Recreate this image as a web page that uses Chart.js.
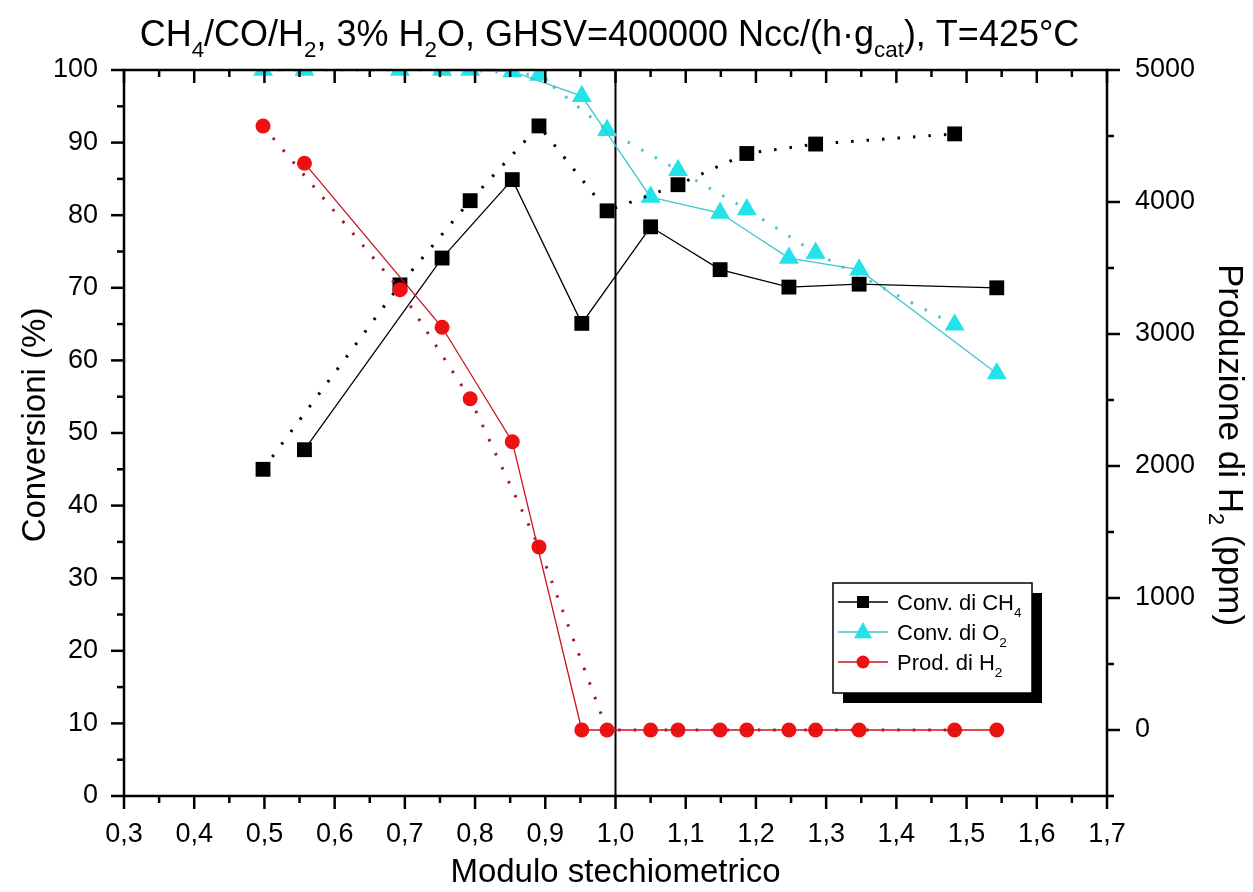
<!DOCTYPE html>
<html>
<head>
<meta charset="utf-8">
<script src="https://cdn.jsdelivr.net/npm/chart.js"></script>
<style>
  html, body { margin: 0; padding: 0; background: #fff; }
  canvas { display: block; }
</style>
</head>
<body>
<canvas id="myChart" width="1253" height="892"></canvas>
<script>
    // modulo stechiometrico: two test runs (solid / dotted lines)
    const modSolid  = [0.557, 0.753, 0.853, 0.952, 1.050, 1.149, 1.247, 1.347, 1.543];
    const modDotted = [0.498, 0.693, 0.793, 0.891, 0.988, 1.089, 1.187, 1.285, 1.483];

    // conversions (%) - left axis
    const ch4Solid  = [47.7, 74.1, 84.9, 65.1, 78.4, 72.5, 70.1, 70.5, 70.0];
    const ch4Dotted = [45.0, 70.4, 82.0, 92.3, 80.6, 84.2, 88.5, 89.8, 91.2];
    const o2Solid   = [100, 100, 99.8, 96.4, 82.5, 80.3, 74.1, 72.5, 58.2];
    const o2Dotted  = [100, 100, 100, 99.3, 91.7, 86.2, 80.8, 74.8, 64.9];

    // H2 production (ppm) - right axis
    const h2Solid   = [4294, 3051, 2184, 0, 0, 0, 0, 0, 0];
    const h2Dotted  = [4576, 3336, 2509, 1387, 0, 0, 0, 0, 0];

    const xTicks    = [0.3, 0.4, 0.5, 0.6, 0.7, 0.8, 0.9, 1.0, 1.1, 1.2, 1.3, 1.4, 1.5, 1.6, 1.7];
    const convTicks = [0, 10, 20, 30, 40, 50, 60, 70, 80, 90, 100];
    const h2Ticks   = [0, 1000, 2000, 3000, 4000, 5000];
    const stoichLine = 1.0;

    const legendLabels = [
        [['Conv. di CH', 0], ['4', 1]],
        [['Conv. di O', 0], ['2', 1]],
        [['Prod. di H', 0], ['2', 1]]
    ];

    const FONT = "'Liberation Sans', Arial, sans-serif";
    const BLACK = '#000000';
    const CYAN = '#22e2ea';
    const RED = '#ee1111';

    function pts(xs, ys) {
        return xs.map((v, i) => ({x: v, y: ys[i]}));
    }

    function minorOf(ticks, below) {
        const out = [];
        for (let i = 1; i < ticks.length; i++) out.push((ticks[i - 1] + ticks[i]) / 2);
        if (below !== undefined) out.push(below);
        return out;
    }

    function partsWidth(ctx, parts, size) {
        let w = 0;
        parts.forEach(([t, sub]) => {
            ctx.font = (sub ? size * 0.62 : size) + 'px ' + FONT;
            w += ctx.measureText(t).width;
        });
        return w;
    }

    function drawParts(ctx, parts, x, y, size) {
        parts.forEach(([t, sub]) => {
            ctx.font = (sub ? size * 0.62 : size) + 'px ' + FONT;
            ctx.fillText(t, x, sub ? y + size * 0.3 : y);
            x += ctx.measureText(t).width;
        });
        return x;
    }

    function drawCentered(ctx, parts, cx, cy, size, rot) {
        ctx.save();
        ctx.translate(cx, cy);
        ctx.rotate(rot);
        ctx.fillStyle = BLACK;
        ctx.textAlign = 'left';
        ctx.textBaseline = 'alphabetic';
        drawParts(ctx, parts, -partsWidth(ctx, parts, size) / 2, 0, size);
        ctx.restore();
    }

    function marker(ctx, style, x, y, r, color) {
        ctx.fillStyle = color;
        ctx.beginPath();
        if (style === 'rect') {
            ctx.rect(x - r, y - r, 2 * r, 2 * r);
        } else if (style === 'triangle') {
            ctx.moveTo(x, y - r * 1.1);
            ctx.lineTo(x + r, y + r * 0.7);
            ctx.lineTo(x - r, y + r * 0.7);
            ctx.closePath();
        } else {
            ctx.arc(x, y, r, 0, Math.PI * 2);
        }
        ctx.fill();
    }

    const frame = {
        id: 'frame',
        beforeDatasetsDraw(chart) {
            const {ctx, chartArea: {top, bottom}, scales: {x}} = chart;
            const px = x.getPixelForValue(stoichLine);
            ctx.save();
            ctx.strokeStyle = BLACK;
            ctx.lineWidth = 2;
            ctx.beginPath();
            ctx.moveTo(px, top);
            ctx.lineTo(px, bottom);
            ctx.stroke();
            ctx.restore();
        },
        afterDatasetsDraw(chart) {
            const {ctx, chartArea: {left, right, top, bottom}, scales: {x, y, y1}} = chart;
            ctx.save();
            ctx.strokeStyle = BLACK;
            ctx.lineWidth = 2.5;
            ctx.strokeRect(left, top, right - left, bottom - top);
            const seg = (x0, y0, x1, y1_) => {
                ctx.beginPath(); ctx.moveTo(x0, y0); ctx.lineTo(x1, y1_); ctx.stroke();
            };
            const MAJ = 13, MIN = 7;
            xTicks.forEach(v => {
                const p = x.getPixelForValue(v);
                seg(p, bottom, p, bottom + MAJ);
                seg(p, top, p, top + MAJ);
            });
            minorOf(xTicks).forEach(v => {
                const p = x.getPixelForValue(v);
                seg(p, bottom, p, bottom + MIN);
                seg(p, top, p, top + MIN);
            });
            convTicks.forEach(v => {
                const p = y.getPixelForValue(v);
                seg(left, p, left - MAJ, p);
            });
            minorOf(convTicks).forEach(v => {
                const p = y.getPixelForValue(v);
                seg(left, p, left - MIN, p);
            });
            h2Ticks.forEach(v => {
                const p = y1.getPixelForValue(v);
                seg(right, p, right + MAJ, p);
            });
            minorOf(h2Ticks, -500).forEach(v => {
                const p = y1.getPixelForValue(v);
                seg(right, p, right + MIN, p);
            });
            ctx.restore();
        },
        afterDraw(chart) {
            const {ctx, chartArea: {left, right, top, bottom}} = chart;
            const cx = (left + right) / 2;
            const cy = (top + bottom) / 2;

            // titles
            drawCentered(ctx, [['CH', 0], ['4', 1], ['/CO/H', 0], ['2', 1], [', 3% H', 0], ['2', 1],
                ['O, GHSV=400000 Ncc/(h\u00b7g', 0], ['cat', 1], ['), T=425\u00b0C', 0]], cx - 6, 46, 36, 0);
            drawCentered(ctx, [['Modulo stechiometrico', 0]], cx, 882, 33, 0);
            drawCentered(ctx, [['Conversioni (%)', 0]], 45, cy - 8, 33, -Math.PI / 2);
            drawCentered(ctx, [['Produzione di H', 0], ['2', 1], [' (ppm)', 0]], 1219, cy + 12, 35, Math.PI / 2);

            // legend box with shadow
            const lx = right - 274, ly = bottom - 213, lw = 199, lh = 110;
            ctx.save();
            ctx.fillStyle = BLACK;
            ctx.fillRect(lx + 10, ly + 10, lw, lh);
            ctx.fillStyle = '#ffffff';
            ctx.fillRect(lx, ly, lw, lh);
            ctx.strokeStyle = BLACK;
            ctx.lineWidth = 1.5;
            ctx.strokeRect(lx, ly, lw, lh);
            const styles = [['rect', BLACK, BLACK, 6], ['triangle', CYAN, '#3cc8cf', 9], ['circle', RED, '#c8141e', 6.5]];
            legendLabels.forEach((parts, i) => {
                const ry = ly + 19 + i * 30;
                const [ps, fill, lineCol, r] = styles[i];
                ctx.strokeStyle = lineCol;
                ctx.lineWidth = 1.3;
                ctx.beginPath();
                ctx.moveTo(lx + 5, ry);
                ctx.lineTo(lx + 55, ry);
                ctx.stroke();
                marker(ctx, ps, lx + 30, ry, r, fill);
                ctx.fillStyle = BLACK;
                ctx.textBaseline = 'alphabetic';
                ctx.textAlign = 'left';
                drawParts(ctx, parts, lx + 64, ry + 8, 22);
            });
            ctx.restore();
        }
    };

    function series(xs, ys, axis, color, lineColor, style, radius, dotted, order) {
        return {
            data: pts(xs, ys),
            yAxisID: axis,
            borderColor: lineColor,
            borderWidth: dotted ? 3 : 1.3,
            borderDash: dotted ? [2.5, 13] : [],
            pointStyle: style,
            pointRadius: radius,
            pointBackgroundColor: color,
            pointBorderColor: color,
            pointBorderWidth: 0,
            tension: 0,
            clip: 0,
            order: order
        };
    }

    const data = {
        datasets: [
            series(modSolid,  h2Solid,  'y1', RED, '#c8141e', 'circle', 7.5, false, 0),
            series(modDotted, h2Dotted, 'y1', RED, '#a01a2c', 'circle', 7.5, true, 1),
            series(modSolid,  ch4Solid,  'y', BLACK, BLACK, 'rect', 10.5, false, 2),
            series(modDotted, ch4Dotted, 'y', BLACK, BLACK, 'rect', 10.5, true, 3),
            series(modSolid,  o2Solid,  'y', CYAN, '#3cc8cf', 'triangle', 11.5, false, 4),
            series(modDotted, o2Dotted, 'y', CYAN, '#50c4c8', 'triangle', 11.5, true, 5)
        ]
    };

    const tickFont = {family: FONT, size: 27};

    const config = {
        type: 'line',
        data,
        options: {
            responsive: false,
            animation: false,
            layout: {padding: {top: 70, left: 0, right: 0, bottom: 0}},
            plugins: {
                legend: {display: false},
                tooltip: {enabled: false}
            },
            scales: {
                x: {
                    type: 'linear',
                    min: 0.3,
                    max: 1.7,
                    grid: {display: false},
                    border: {display: false},
                    afterBuildTicks: s => { s.ticks = xTicks.map(v => ({value: v})); },
                    afterFit: s => { s.height = 96; },
                    ticks: {
                        font: tickFont, color: BLACK, padding: 14,
                        maxRotation: 0, autoSkip: false,
                        callback: v => v.toFixed(1).replace('.', ',')
                    }
                },
                y: {
                    position: 'left',
                    min: 0,
                    max: 100,
                    grid: {display: false},
                    border: {display: false},
                    afterBuildTicks: s => { s.ticks = convTicks.map(v => ({value: v})); },
                    afterFit: s => { s.width = 124; },
                    ticks: {font: tickFont, color: BLACK, padding: 18, callback: v => String(v)}
                },
                y1: {
                    position: 'right',
                    min: -500,
                    max: 5000,
                    grid: {display: false},
                    border: {display: false},
                    afterBuildTicks: s => { s.ticks = h2Ticks.map(v => ({value: v})); },
                    afterFit: s => { s.width = 146; },
                    ticks: {font: tickFont, color: BLACK, padding: 20, callback: v => String(v)}
                }
            }
        },
        plugins: [frame]
    };

    const myChart = new Chart(document.getElementById('myChart'), config);
</script>
</body>
</html>
